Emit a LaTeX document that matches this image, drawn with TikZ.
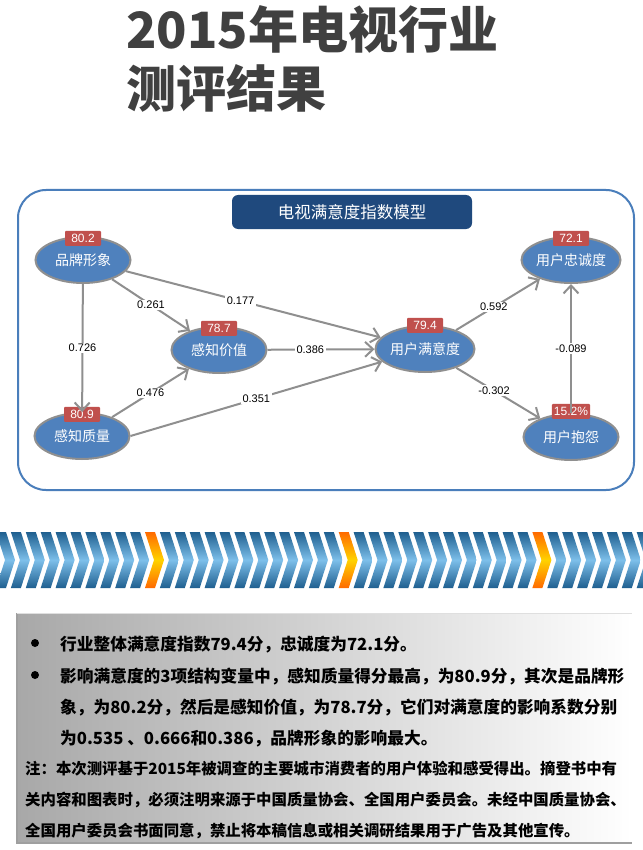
\documentclass[tikz,border=0pt]{standalone}
\usepackage{fontspec}
\setmainfont{Noto Sans CJK SC}
\newfontfamily\numfont{Liberation Sans}
\usepackage{xcolor}
\usepackage{tikz}
\usetikzlibrary{arrows.meta, shapes, positioning, calc}
\definecolor{titlegray}{HTML}{404040}
\definecolor{ovalblue}{HTML}{4F81BD}
\definecolor{frameblue}{HTML}{4A7EBB}
\definecolor{headblue}{HTML}{1F497D}
\definecolor{badgered}{HTML}{C0504D}
\definecolor{arcgray}{HTML}{8F8F8F}
\definecolor{chevdark}{HTML}{1F5F8F}
\definecolor{chevlight}{HTML}{7DBFEA}
\definecolor{chevorange}{HTML}{FF6A00}
\definecolor{chevyellow}{HTML}{FFD200}
\definecolor{boxgray}{HTML}{A8A8A8}
\tikzset{
  var/.style={ellipse, draw=arcgray, line width=2pt, fill=ovalblue, text=white,
              minimum width=95pt, minimum height=46pt, inner sep=0pt,
              font=\fontsize{14}{15}\selectfont},
  badge/.style={rectangle, fill=badgered, text=white, minimum width=36pt,
                minimum height=15pt, inner sep=2pt, rounded corners=1pt,
                font=\numfont\fontsize{12}{12}\selectfont},
  coef/.style={fill=white, inner sep=1.5pt, text=black,
               font=\numfont\fontsize{11}{12}\selectfont},
  arc/.style={-{Straight Barb[length=8pt, width=15pt]}, draw=arcgray, line width=2pt},
  head/.style={rectangle, rounded corners=6pt, fill=headblue, text=white,
               minimum width=240pt, minimum height=34pt, font=\fontsize{16.5}{17}\selectfont},
  ttl/.style={anchor=base west, text=titlegray, inner sep=0pt,
              font=\bfseries\fontsize{50}{50}\selectfont},
  txt/.style={anchor=base west, inner sep=0pt, font=\bfseries\fontsize{16.7}{18}\selectfont},
  note/.style={anchor=base west, inner sep=0pt, font=\bfseries\fontsize{15.4}{16}\selectfont},
  dot/.style={circle, fill=black, inner sep=0pt, minimum size=8pt}
}
\begin{document}
\begin{tikzpicture}[x=1pt, y=-1pt]
  \useasboundingbox (0,0) rectangle (642,850);
  \fill[white] (0,0) rectangle (642,850);
  \node[ttl] (t1) at (126,49) {2015年电视行业};
  \node[ttl] (t2) at (126,108) {测评结果};

  \draw[frameblue, line width=2pt, rounded corners=28pt] (18,190) rectangle (634,490);
  \node[head] (model) at (352,212) {电视满意度指数模型};

  \node[var] (brand) at (83,260) {品牌形象};
  \node[var] (value) at (219,350) {感知价值};
  \node[var] (qual) at (82,436) {感知质量};
  \node[var] (sat) at (425,349) {用户满意度};
  \node[var] (loyal) at (571,260) {用户忠诚度};
  \node[var] (compl) at (571,437) {用户抱怨};

  \node[badge, above=-10pt of brand] (brandval) {80.2};
  \node[badge, above=-10pt of value] (valueval) {78.7};
  \node[badge, above=-10pt of qual] (qualval) {80.9};
  \node[badge, above=-8pt of sat] (satval) {79.4};
  \node[badge, above=-10pt of loyal] (loyalval) {72.1};
  \node[badge, above=-6pt of compl] (complval) {15.2\%};

  \draw[arc] (brand) -- node[coef] {0.261} (value);
  \draw[arc] (brand) -- node[coef, pos=0.45] {0.177} (sat);
  \draw[arc] (brand) -- node[coef] {0.726} (qual);
  \draw[arc] (qual) -- node[coef] {0.476} (value);
  \draw[arc] (qual.east) -- node[coef] {0.351} (sat);
  \draw[arc] (value) -- node[coef, pos=0.4] {0.386} (sat);
  \draw[arc] (sat) -- node[coef, pos=0.45] {0.592} (loyal);
  \draw[arc] (sat) -- node[coef, pos=0.45] {-0.302} (compl);
  \draw[arc] (compl) -- node[coef] {-0.089} (loyal);

  \foreach \k in {-10,...,33}{
    \pgfmathsetmacro{\cx}{145+14.9*\k}
    \pgfmathtruncatemacro{\m}{mod(\k+13,13)}
    \ifnum\m=0
      \colorlet{chevedge}{chevorange}\colorlet{chevmid}{chevyellow}
    \else
      \colorlet{chevedge}{chevdark}\colorlet{chevmid}{chevlight}
    \fi
    \shade[top color=chevedge, bottom color=chevedge, middle color=chevmid]
      (\cx,532) -- ++(10,0) -- ++(9,28) -- ++(-9,28) -- ++(-10,0) -- ++(9,-28) -- cycle;
  }

  \shade[left color=boxgray, right color=white] (17,613) rectangle (632,843);
  \draw[gray!75, line width=1.5pt] (17,613) -- (17,843) -- (632,843);
  \draw[gray!25, line width=1pt] (17,613) -- (632,613);

  \node[dot] (d1) at (35,643) {};
  \node[dot] (d2) at (35,675) {};
  \node[txt] (l1) at (60,650) {行业整体满意度指数79.4分，忠诚度为72.1分。};
  \node[txt] (l2) at (60,682) {影响满意度的3项结构变量中，感知质量得分最高，为80.9分，其次是品牌形};
  \node[txt] (l3) at (60,713) {象，为80.2分，然后是感知价值，为78.7分，它们对满意度的影响系数分别};
  \node[txt] (l4) at (60,744) {为0.535 、0.666和0.386，品牌形象的影响最大。};
  \node[note] (n1) at (25,774) {注：本次测评基于2015年被调查的主要城市消费者的用户体验和感受得出。摘登书中有};
  \node[note] (n2) at (25,805) {关内容和图表时，必须注明来源于中国质量协会、全国用户委员会。未经中国质量协会、};
  \node[note] (n3) at (25,836) {全国用户委员会书面同意，禁止将本稿信息或相关调研结果用于广告及其他宣传。};
\end{tikzpicture}
\end{document}
